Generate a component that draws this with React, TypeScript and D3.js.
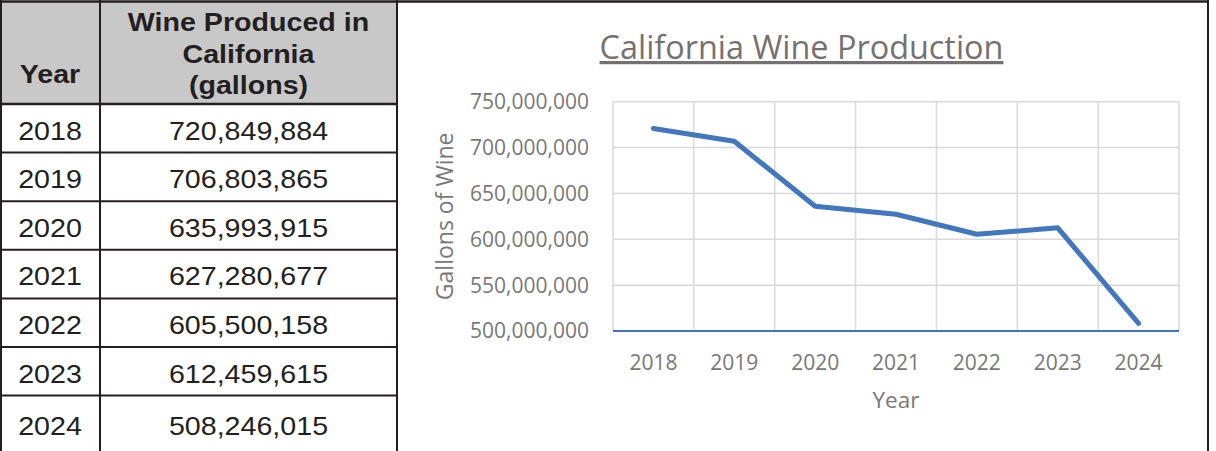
import * as d3 from 'd3';

const years = ['2018', '2019', '2020', '2021', '2022', '2023', '2024'];
const gallons = [720849884, 706803865, 635993915, 627280677, 605500158, 612459615, 508246015];
const yTicks = [500000000, 550000000, 600000000, 650000000, 700000000, 750000000];
const headerLines = ['Wine Produced in', 'California', '(gallons)'];

const W = 1216,
    H = 451;

const App = () => {
    const fmt = d3.format(',');

    // table geometry
    const colSplit = 100;
    const tableRight = 397;
    const headerBottom = 104;
    const rowH = 48.6;
    const tableFont = 'Liberation Sans, Arial, sans-serif';
    const squash = 1.08; // table text is a bit wide in the source

    // chart geometry
    const chartRight = 1208;
    const x = d3.scaleBand().domain(years).range([613, 1179]);
    const y = d3.scaleLinear().domain([500000000, 750000000]).range([331, 101.7]);

    const line = d3
        .line<number>()
        .x((d, i) => x(years[i])! + x.bandwidth() / 2)
        .y((d) => y(d));

    const gray = '#787878';
    const chartFont = 'Open Sans, sans-serif';
    const numCenter = (colSplit + tableRight) / 2;

    const tText = (cx: number, by: number, s: string, bold = false) => (
        <text
            key={s + by}
            transform={`translate(${cx},${by}) scale(${squash},1)`}
            textAnchor="middle"
            fontFamily={tableFont}
            fontSize={26.5}
            fontWeight={bold ? 'bold' : 'normal'}
            fill="#231f20"
        >
            {s}
        </text>
    );

    return (
        <svg width={W} height={H} style={{ position: 'absolute', left: 0, top: 0, background: '#fff' }}>
            {/* ---------- table ---------- */}
            <rect x={1} y={2} width={tableRight - 1} height={headerBottom - 2} fill="#c8c8c8" />
            {tText(colSplit / 2, 83, 'Year', true)}
            {headerLines.map((s, i) => tText(numCenter, 31 + i * 31.5, s, true))}

            {years.map((yr, i) => {
                const top = headerBottom + i * rowH;
                const base = top + 35.6 + (i === years.length - 1 ? 4 : 0);
                return (
                    <g key={yr}>
                        {i > 0 && (
                            <line x1={1} x2={tableRight} y1={top} y2={top} stroke="#231f20" strokeWidth={2} />
                        )}
                        {tText(colSplit / 2, base, yr)}
                        {tText(numCenter, base, fmt(gallons[i]))}
                    </g>
                );
            })}
            <line x1={1} x2={tableRight} y1={headerBottom} y2={headerBottom} stroke="#231f20" strokeWidth={2.5} />
            <line x1={1} x2={1} y1={0} y2={H} stroke="#231f20" strokeWidth={2} />
            <line x1={colSplit} x2={colSplit} y1={0} y2={H} stroke="#231f20" strokeWidth={2} />
            <line x1={tableRight} x2={tableRight} y1={0} y2={H} stroke="#231f20" strokeWidth={2} />
            <line x1={0} x2={chartRight + 1} y1={1.5} y2={1.5} stroke="#231f20" strokeWidth={2.5} />
            <line x1={chartRight} x2={chartRight} y1={0} y2={H} stroke="#231f20" strokeWidth={2} />

            {/* ---------- chart ---------- */}
            <text
                x={801.5}
                y={59}
                textAnchor="middle"
                fontFamily={chartFont}
                fontSize={32.4}
                fill="#767171"
                textDecoration="underline"
            >
                California Wine Production
            </text>

            {/* grid */}
            {yTicks.slice(1).map((t) => (
                <line key={t} x1={x.range()[0]} x2={x.range()[1]} y1={y(t)} y2={y(t)} stroke="#d9d9d9" strokeWidth={1.5} />
            ))}
            {years.concat(['end']).map((yr, i) => {
                const xx = x.range()[0] + i * x.step();
                return <line key={yr} x1={xx} x2={xx} y1={y(750000000)} y2={y(500000000)} stroke="#d9d9d9" strokeWidth={1.5} />;
            })}
            <line
                x1={x.range()[0]}
                x2={x.range()[1]}
                y1={y(500000000)}
                y2={y(500000000)}
                stroke="#4472c4"
                strokeWidth={1.8}
            />

            {/* y tick labels */}
            {yTicks.map((t) => (
                <text key={t} x={589} y={y(t) + 7.4} textAnchor="end" fontFamily={chartFont} fontSize={21} fill={gray}>
                    {fmt(t)}
                </text>
            ))}
            {/* x tick labels */}
            {years.map((yr) => (
                <text
                    key={yr}
                    x={x(yr)! + x.bandwidth() / 2}
                    y={370}
                    textAnchor="middle"
                    fontFamily={chartFont}
                    fontSize={21}
                    fill={gray}
                >
                    {yr}
                </text>
            ))}

            {/* axis titles */}
            <text x={896} y={408} textAnchor="middle" fontFamily={chartFont} fontSize={22.5} fill={gray}>
                Year
            </text>
            <text
                transform={`translate(453,${(y(500000000) + y(750000000)) / 2}) rotate(-90)`}
                textAnchor="middle"
                fontFamily={chartFont}
                fontSize={23}
                fill={gray}
            >
                Gallons of Wine
            </text>

            {/* series */}
            <path
                d={line(gallons) || ''}
                fill="none"
                stroke="#4276be"
                strokeWidth={5}
                strokeLinejoin="round"
                strokeLinecap="round"
            />
        </svg>
    );
};

export default App;
